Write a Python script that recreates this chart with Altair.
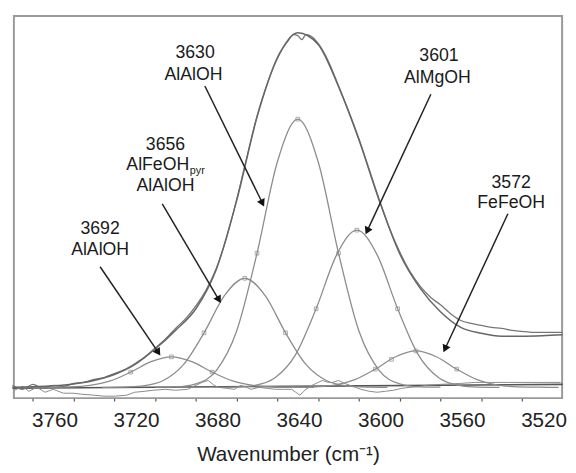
import altair as alt
import pandas as pd

# ---------------- data ----------------
X_DOMAIN = [3769.3, 3500.3]   # wavenumber, reversed axis
Y_DOMAIN = [-11, 378]         # arbitrary absorbance units

tick_values = [3760, 3740, 3720, 3700, 3680, 3660, 3640, 3620, 3600, 3580, 3560, 3540, 3520]

# fitted component bands
c3692_wn = [3762, 3752, 3742, 3732, 3722, 3712, 3702, 3692, 3682, 3672, 3662, 3652, 3642, 3632, 3622]
c3692_y = [0.0, 0.1, 0.4, 1.9, 6.5, 15.5, 26.1, 31.0, 26.1, 15.5, 6.5, 1.9, 0.4, 0.1, 0.0]

c3656_wn = [3726, 3716, 3706, 3696, 3686, 3676, 3666, 3656, 3646, 3636, 3626, 3616, 3606, 3596, 3586]
c3656_y = [0.0, 0.2, 1.5, 6.9, 23.3, 55.5, 93.4, 111.0, 93.4, 55.5, 23.3, 6.9, 1.5, 0.2, 0.0]

c3630_wn = [3700, 3690, 3680, 3670, 3660, 3650, 3640, 3630, 3620, 3610, 3600, 3590, 3580, 3570, 3560]
c3630_y = [0.1, 0.5, 3.6, 17.1, 57.3, 136.5, 229.6, 273.0, 229.6, 136.5, 57.3, 17.1, 3.6, 0.5, 0.1]

c3601_wn = [3671, 3661, 3651, 3641, 3631, 3621, 3611, 3601, 3591, 3581, 3571, 3561, 3551, 3541, 3531]
c3601_y = [0.0, 0.3, 2.1, 10.0, 33.6, 80.0, 134.6, 160.0, 134.6, 80.0, 33.6, 10.0, 2.1, 0.3, 0.0]

c3572_wn = [3642, 3632, 3622, 3612, 3602, 3592, 3582, 3572, 3562, 3552, 3542, 3532, 3522, 3512, 3502]
c3572_y = [0.0, 0.1, 0.5, 2.3, 7.8, 18.5, 31.1, 37.0, 31.1, 18.5, 7.8, 2.3, 0.5, 0.1, 0.0]

# markers on the component curves
mk_wn = [3712, 3692, 3672, 3676, 3656, 3636, 3650, 3630, 3610, 3621, 3601, 3581, 3592, 3584, 3572, 3552]
mk_y = [15.5, 31.0, 15.5, 55.5, 111.0, 55.5, 136.5, 273.0, 136.5, 80.0, 160.0, 80.0, 18.5, 28.5, 37.0, 18.5]

# total fit envelope
fit_wn = [3770, 3760, 3750, 3740, 3730, 3720, 3710, 3700, 3690, 3680, 3670, 3660, 3650, 3640,
          3630, 3620, 3610, 3600, 3590, 3580, 3570, 3560, 3550, 3540, 3530, 3520, 3510, 3500]
fit_y = [0.0, 0.5, 1.5, 3.5, 7.0, 13.0, 23.0, 39.0, 58.0, 80.0, 120.0, 190.0, 275.0, 335.0,
         361.0, 349.0, 306.0, 252.0, 190.0, 136.0, 101.0, 77.0, 61.0, 55.0, 52.0, 52.0, 52.5, 53.5]

# measured spectrum
meas_wn = [3770, 3765, 3760, 3755, 3750, 3745, 3740, 3735, 3730, 3725, 3720, 3715, 3710, 3705,
           3700, 3695, 3690, 3685, 3680, 3675, 3670, 3665, 3660, 3655, 3650, 3645, 3640, 3635,
           3632, 3630, 3628, 3626, 3624, 3620, 3615, 3610, 3605, 3600, 3595, 3590, 3585, 3580,
           3575, 3570, 3565, 3560, 3555, 3550, 3545, 3540, 3535, 3530, 3525, 3520, 3515, 3510,
           3505, 3500]
meas_y = [2, -2, 3, -1, 2, 1, 4, 5, 8, 10, 14, 18, 24, 31,
          40, 49, 60, 70, 83, 99, 121, 152, 191, 234, 276, 309, 336, 352,
          359, 358, 354, 359, 358, 350, 332, 307, 281, 253, 222, 191, 162, 138,
          118, 103, 92, 84, 75, 68, 65, 63, 61, 60, 58, 57, 56, 56,
          56, 56]

# residual
res_wn = [3769, 3765, 3762, 3758, 3754, 3750, 3745, 3740, 3736, 3730, 3725, 3720, 3714, 3710,
          3705, 3701, 3695, 3690, 3684, 3680, 3677, 3674, 3671, 3669, 3665, 3661, 3658, 3655,
          3653, 3649, 3645, 3641, 3637, 3633, 3631, 3629, 3627, 3626, 3623, 3620, 3618, 3615,
          3613, 3610, 3607, 3603, 3599, 3595, 3591, 3587, 3583, 3579, 3575, 3570, 3567, 3560,
          3550, 3543, 3535, 3527, 3515, 3501]
res_y = [-3, 1, -4, 0, -5, -2, -6, -6, -7, -8, -9, -9, -8, -5,
         -4, -3, -2, -3, -2, 2, 5, 7, 2, 0, -1, -2, 2, 0,
         -2, 0, -1, -2, -2, -2, -5, -8, -4, -2, 2, 5, 7, 5,
         5, 7, 4, 1, -2, -4, -5, -4, -3, -1, 0, 1, 2, 3,
         4, 5, 5, 5, 5, 5]

# baseline
base_wn = [3770, 3500]
base_y = [-1, 3]

# annotations
ann_text = ["3692", "AlAlOH", "3656", "AlFeOH", "AlAlOH", "3630", "AlAlOH",
            "3601", "AlMgOH", "3572", "FeFeOH"]
ann_wn = [3727.0, 3727.0, 3694.9, 3698.7, 3694.9, 3680.4, 3681.2,
          3560.7, 3561.5, 3525.3, 3525.3]
ann_y = [160.7, 139.3, 246.7, 226.0, 205.0, 340.0, 318.3, 336.7, 315.0, 208.3, 187.3]

sub_text = ["pyr"]
sub_wn = [3683.0]
sub_y = [220.5]

# arrows (start -> head) and head direction
arr_x0 = [3727.0, 3696.5, 3675.6, 3564.7, 3526.9]
arr_y0 = [122.7, 186.7, 306.7, 298.3, 176.7]
arr_x1 = [3698.8, 3669.0, 3647.6, 3595.7, 3557.5]
arr_y1 = [36.6, 90.1, 188.6, 160.3, 40.3]
arr_angle = [146, 150, 154, 205, 205]

# ---------------- chart ----------------
FONT = "Liberation Sans"

xscale = alt.Scale(domain=X_DOMAIN, nice=False, zero=False)
yscale = alt.Scale(domain=Y_DOMAIN, nice=False, zero=False)

x_axis = alt.Axis(
    values=tick_values, format="d",
    labelExpr="datum.value % 40 == 0 ? datum.label : ''",
    labelOffset=22, labelOverlap=False, labelFlush=False,
    tickSize=3, tickColor="#555", tickWidth=1.2,
    domain=False, grid=False,
    labelFont=FONT, labelFontSize=21, labelColor="#222", labelPadding=9,
    title="Wavenumber (cm\u207b\u00b9)", titleFont=FONT, titleFontSize=21,
    titleFontWeight="normal", titleColor="#222", titlePadding=13,
)


def line_layer(wn, y, color, width, interp="monotone"):
    df = pd.DataFrame({"wn": wn, "y": y})
    return alt.Chart(df).mark_line(color=color, strokeWidth=width, interpolate=interp).encode(
        x=alt.X("wn:Q", scale=xscale, axis=x_axis),
        y=alt.Y("y:Q", scale=yscale, axis=None),
    )


layers = []
layers.append(line_layer(base_wn, base_y, "#555555", 1.6, "linear"))
layers.append(line_layer(res_wn, res_y, "#8a8a8a", 1.0, "linear"))
for wn, y in [(c3692_wn, c3692_y), (c3656_wn, c3656_y), (c3630_wn, c3630_y),
              (c3601_wn, c3601_y), (c3572_wn, c3572_y)]:
    layers.append(line_layer(wn, y, "#8c8c8c", 1.3))
layers.append(line_layer(meas_wn, meas_y, "#777777", 1.3))
layers.append(line_layer(fit_wn, fit_y, "#666666", 1.5))

mk_df = pd.DataFrame({"wn": mk_wn, "y": mk_y})
layers.append(alt.Chart(mk_df).mark_point(shape="square", size=14, filled=False,
                                          color="#8a8a8a", strokeWidth=1).encode(
    x=alt.X("wn:Q", scale=xscale, axis=x_axis),
    y=alt.Y("y:Q", scale=yscale, axis=None),
))

arr_df = pd.DataFrame({"x0": arr_x0, "y0": arr_y0, "x1": arr_x1, "y1": arr_y1, "angle": arr_angle})
layers.append(alt.Chart(arr_df).mark_rule(color="#222", strokeWidth=1.5).encode(
    x=alt.X("x0:Q", scale=xscale, axis=x_axis),
    y=alt.Y("y0:Q", scale=yscale, axis=None),
    x2="x1:Q", y2="y1:Q",
))
layers.append(alt.Chart(arr_df).mark_point(shape="triangle", size=75, filled=True,
                                           color="#111", opacity=1).encode(
    x=alt.X("x1:Q", scale=xscale, axis=x_axis),
    y=alt.Y("y1:Q", scale=yscale, axis=None),
    angle=alt.Angle("angle:Q", scale=None),
))

ann_df = pd.DataFrame({"wn": ann_wn, "y": ann_y, "t": ann_text})
layers.append(alt.Chart(ann_df).mark_text(font=FONT, fontSize=18, color="#1a1a1a",
                                          align="center", baseline="middle").encode(
    x=alt.X("wn:Q", scale=xscale, axis=x_axis),
    y=alt.Y("y:Q", scale=yscale, axis=None),
    text="t:N",
))
sub_df = pd.DataFrame({"wn": sub_wn, "y": sub_y, "t": sub_text})
layers.append(alt.Chart(sub_df).mark_text(font=FONT, fontSize=11, color="#1a1a1a",
                                          align="left", baseline="middle").encode(
    x=alt.X("wn:Q", scale=xscale, axis=x_axis),
    y=alt.Y("y:Q", scale=yscale, axis=None),
    text="t:N",
))

chart = alt.layer(*layers).properties(
    width=558, height=389,
    padding={"left": 1, "top": 4, "right": 1, "bottom": 0},
    background="white",
).configure_view(stroke="#9a9a9a", strokeWidth=2)

chart.save("out.html", embed_options={"renderer": "svg", "actions": False})
